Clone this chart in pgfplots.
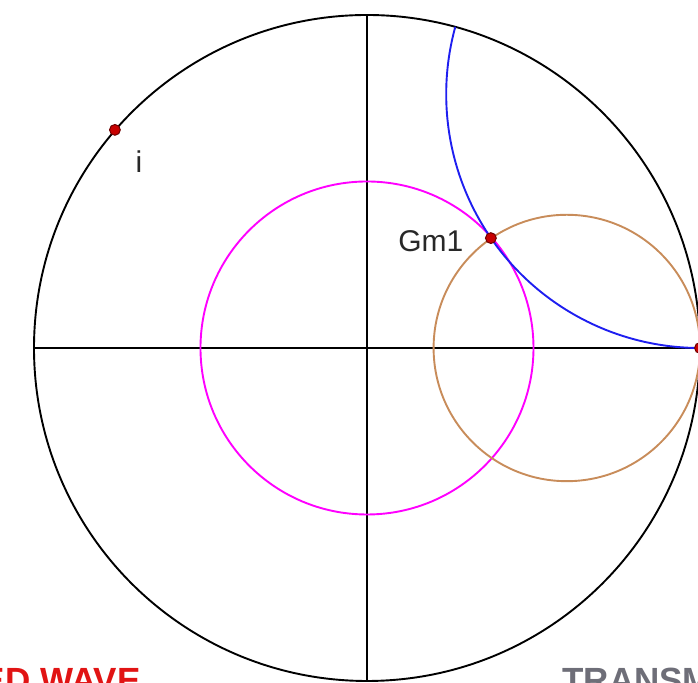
\documentclass[border=0pt]{standalone}
\usepackage{pgfplots}
\pgfplotsset{compat=1.18}
\usepackage{fontspec}
\setmainfont{Liberation Sans}
\definecolor{ptfill}{RGB}{200,0,0}
\definecolor{ptdraw}{RGB}{110,0,0}
\definecolor{mybrown}{RGB}{200,140,90}
\definecolor{mymag}{RGB}{255,0,255}
\definecolor{myblue}{RGB}{30,30,240}
\definecolor{myred}{RGB}{225,20,20}
\definecolor{mygray}{RGB}{110,110,120}
\definecolor{lblgray}{RGB}{40,40,40}
\begin{document}
\begin{tikzpicture}
\useasboundingbox (0,0) rectangle (349pt,341.5pt);
\clip (0,0) rectangle (349pt,341.5pt);
\begin{axis}[
  at={(0,0)}, anchor=south west,
  x=166.5pt, y=166.5pt,
  xmin=-1.1021, xmax=0.9940, ymin=-1.0060, ymax=1.0450,
  hide axis, clip=false,
]
% axes lines
\addplot[black, line width=0.95pt] coordinates {(-1,0) (1,0)};
\addplot[black, line width=0.95pt] coordinates {(0,-1) (0,1)};
% unit circle
\draw[black, line width=0.95pt] (axis cs:0,0) circle[radius=166.5pt];
% |Gamma| = 0.5 circle
\draw[mymag, line width=0.95pt] (axis cs:0,0) circle[radius=83.25pt];
% r = 1.5 circle (center 0.6, radius 0.4)
\draw[mybrown, line width=0.95pt] (axis cs:0.6,0) circle[radius=66.6pt];
% x = 1.31 reactance arc (center (1,0.762), radius 0.762)
\draw[myblue, line width=0.95pt] (axis cs:1,0) arc[start angle=270, end angle=164.6, radius=126.9pt];
% points
\addplot[only marks, mark=*, mark size=2.7pt, mark options={fill=ptfill, draw=ptdraw, line width=0.5pt}]
  coordinates {(0.372,0.330) (-0.757,0.655) (1.0,0.0)};
% labels
\node[anchor=base west, inner sep=0pt, text=lblgray, font=\fontsize{15}{18}\selectfont] at (axis cs:0.0931,0.2883) {Gm1};
\node[anchor=base, inner sep=0pt, text=lblgray, font=\fontsize{15}{18}\selectfont] at (axis cs:-0.6847,0.5255) {i};
\node[anchor=base east, inner sep=0pt, text=myred, font=\fontsize{17.5}{21}\selectfont\bfseries] at (axis cs:-0.6787,-1.036) {REFLECTED WAVE};
\node[anchor=base west, inner sep=0pt, text=mygray, font=\fontsize{17.5}{21}\selectfont\bfseries] at (axis cs:0.5856,-1.036) {TRANSMITTED WAVE};
\end{axis}
\end{tikzpicture}
\end{document}
